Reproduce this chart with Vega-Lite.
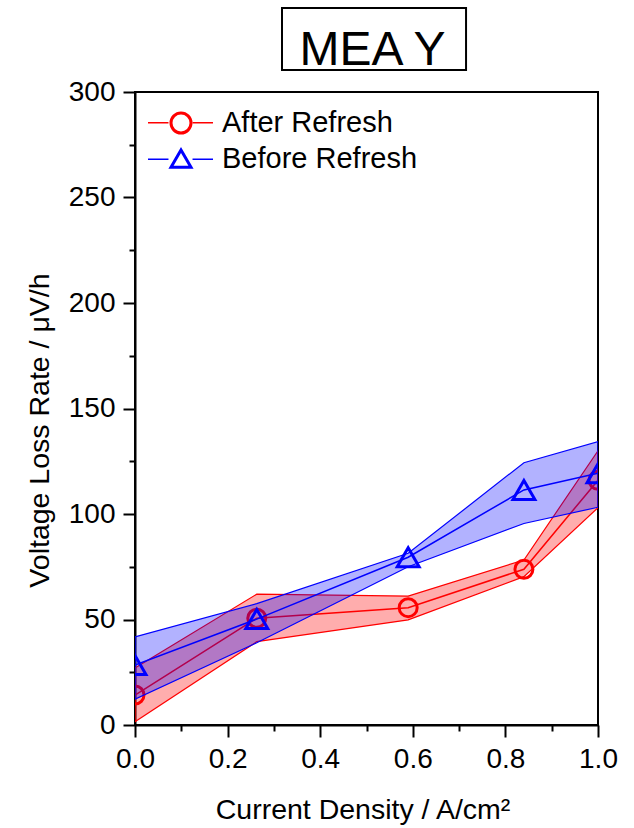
{
  "$schema": "https://vega.github.io/schema/vega-lite/v6.json",
  "width": 463,
  "height": 633,
  "autosize": {"type": "none"},
  "padding": {"left": 135, "top": 92, "right": 36, "bottom": 103},
  "background": "white",
  "config": {
    "view": {"stroke": "black", "strokeWidth": 2},
    "font": "Liberation Sans",
    "axis": {"grid": false, "domainColor": "black", "domainWidth": 2, "tickColor": "black", "tickWidth": 2, "labelColor": "black", "titleColor": "black", "labelFont": "Liberation Sans", "titleFont": "Liberation Sans", "labelFontSize": 28, "titleFontSize": 28.5, "titleFontWeight": "normal", "zindex": 1}
  },
  "data": {"values": [
    {"series": "After Refresh", "x": 0, "y": 14.2, "lo": 1.6, "hi": 27},
    {"series": "After Refresh", "x": 0.263, "y": 50.6, "lo": 39.5, "hi": 62},
    {"series": "After Refresh", "x": 0.59, "y": 55.6, "lo": 49.8, "hi": 61.1},
    {"series": "After Refresh", "x": 0.84, "y": 73.8, "lo": 70.3, "hi": 78.2},
    {"series": "After Refresh", "x": 1.0, "y": 116, "lo": 103, "hi": 130},
    {"series": "Before Refresh", "x": 0, "y": 28.4, "lo": 12.2, "hi": 41.8},
    {"series": "Before Refresh", "x": 0.263, "y": 50.2, "lo": 39, "hi": 57.5},
    {"series": "Before Refresh", "x": 0.59, "y": 79.5, "lo": 75, "hi": 81.4},
    {"series": "Before Refresh", "x": 0.84, "y": 111.4, "lo": 95.5, "hi": 124.3},
    {"series": "Before Refresh", "x": 1.0, "y": 119.3, "lo": 103.2, "hi": 134.3}
  ]},
  "layer": [
    {
      "transform": [{"filter": "datum.series === 'After Refresh'"}],
      "mark": {"type": "area", "fill": "#ff0000", "fillOpacity": 0.32, "stroke": "#ff0000", "strokeWidth": 1.2, "clip": true},
      "encoding": {
        "x": {"field": "x", "type": "quantitative", "title": "Current Density / A/cm²",
          "scale": {"domain": [0, 1], "nice": false, "zero": false},
          "axis": {"values": [0, 0.1, 0.2, 0.3, 0.4, 0.5, 0.6, 0.7, 0.8, 0.9, 1.0], "format": ".1f",
            "labelExpr": "round(datum.value*10) % 2 === 0 ? datum.label : ''",
            "tickSize": {"condition": {"test": "round(datum.value*10) % 2 === 0", "value": 12}, "value": 6},
            "labelPadding": 8, "labelFlush": false, "labelOverlap": false, "labelBound": false,
            "titleX": 227.5, "titleY": 93, "titleBaseline": "alphabetic", "titleAlign": "center"}},
        "y": {"field": "lo", "type": "quantitative", "title": "Voltage Loss Rate / μV/h",
          "scale": {"domain": [0, 300], "nice": false, "zero": false},
          "axis": {"values": [0, 25, 50, 75, 100, 125, 150, 175, 200, 225, 250, 275, 300], "format": "d",
            "labelExpr": "datum.value % 50 === 0 ? datum.label : ''",
            "tickSize": {"condition": {"test": "datum.value % 50 === 0", "value": 12}, "value": 6},
            "labelPadding": 8, "labelFlush": false, "labelOverlap": false, "labelBound": false,
            "titleX": -87, "titleY": 338, "titleBaseline": "alphabetic", "titleAlign": "center", "titleAngle": -90}},
        "y2": {"field": "hi"}
      }
    },
    {
      "transform": [{"filter": "datum.series === 'After Refresh'"}],
      "mark": {"type": "line", "strokeWidth": 1.5, "clip": true},
      "encoding": {
        "x": {"field": "x", "type": "quantitative", "title": "Current Density / A/cm²"},
        "y": {"field": "y", "type": "quantitative", "title": "Voltage Loss Rate / μV/h"},
        "stroke": {"field": "series", "type": "nominal",
          "scale": {"domain": ["After Refresh", "Before Refresh"], "range": ["#ff0000", "#0000ff"]},
          "legend": {"title": null, "orient": "none", "legendX": 12, "legendY": 16.7, "symbolType": "M-1,0L-0.37,0M0.37,0L1,0", "symbolSize": 4225, "symbolStrokeWidth": 1.5, "labelFontSize": 29, "labelFont": "Liberation Sans", "labelColor": "black", "labelOffset": 8, "labelLimit": 0, "clipHeight": 28, "rowPadding": 7.6, "padding": 0}}
      }
    },
    {
      "transform": [{"filter": "datum.series === 'After Refresh'"}],
      "mark": {"type": "point", "filled": false, "strokeWidth": 3, "size": 324, "opacity": 1, "clip": true},
      "encoding": {
        "x": {"field": "x", "type": "quantitative", "title": "Current Density / A/cm²"},
        "y": {"field": "y", "type": "quantitative", "title": "Voltage Loss Rate / μV/h"},
        "color": {"field": "series", "type": "nominal",
          "scale": {"range": ["#ff0000", "#0000ff"]},
          "legend": {"title": null, "orient": "top-left", "offset": 16.7, "symbolOffset": 15, "symbolSize": 400, "symbolStrokeWidth": 3, "labelFontSize": 28, "labelExpr": "''", "clipHeight": 28, "rowPadding": 7.6, "padding": 0}},
        "shape": {"field": "series", "type": "nominal",
          "scale": {"range": ["circle", "triangle-up"]},
          "legend": {"title": null, "orient": "top-left", "offset": 16.7, "symbolOffset": 15, "symbolSize": 400, "symbolStrokeWidth": 3, "labelFontSize": 28, "labelExpr": "''", "clipHeight": 28, "rowPadding": 7.6, "padding": 0}}
      }
    },
    {
      "transform": [{"filter": "datum.series === 'Before Refresh'"}],
      "mark": {"type": "area", "fill": "#0000ff", "fillOpacity": 0.3, "stroke": "#0000ff", "strokeWidth": 1.2, "clip": true},
      "encoding": {
        "x": {"field": "x", "type": "quantitative", "title": "Current Density / A/cm²"},
        "y": {"field": "lo", "type": "quantitative", "title": "Voltage Loss Rate / μV/h"},
        "y2": {"field": "hi"}
      }
    },
    {
      "transform": [{"filter": "datum.series === 'Before Refresh'"}],
      "mark": {"type": "line", "strokeWidth": 1.5, "clip": true},
      "encoding": {
        "x": {"field": "x", "type": "quantitative", "title": "Current Density / A/cm²"},
        "y": {"field": "y", "type": "quantitative", "title": "Voltage Loss Rate / μV/h"},
        "stroke": {"field": "series", "type": "nominal"}
      }
    },
    {
      "transform": [{"filter": "datum.series === 'Before Refresh'"}],
      "mark": {"type": "point", "filled": false, "strokeWidth": 3, "size": 480, "opacity": 1, "clip": true},
      "encoding": {
        "x": {"field": "x", "type": "quantitative", "title": "Current Density / A/cm²"},
        "y": {"field": "y", "type": "quantitative", "title": "Voltage Loss Rate / μV/h"},
        "color": {"field": "series", "type": "nominal"},
        "shape": {"field": "series", "type": "nominal"}
      }
    },
    {
      "data": {"values": [{"label": "MEA Y"}]},
      "mark": {"type": "rect", "fill": "transparent", "stroke": "black", "strokeWidth": 2},
      "encoding": {
        "x": {"datum": 0.3175, "type": "quantitative"},
        "x2": {"datum": 0.715},
        "y": {"datum": 310.4, "type": "quantitative"},
        "y2": {"datum": 339.8}
      }
    },
    {
      "data": {"values": [{"label": "MEA Y"}]},
      "mark": {"type": "text", "fontSize": 48, "font": "Liberation Sans", "color": "black", "align": "center", "baseline": "alphabetic"},
      "encoding": {
        "x": {"datum": 0.513, "type": "quantitative"},
        "y": {"datum": 312.8, "type": "quantitative"},
        "text": {"field": "label", "type": "nominal"}
      }
    }
  ]
}
